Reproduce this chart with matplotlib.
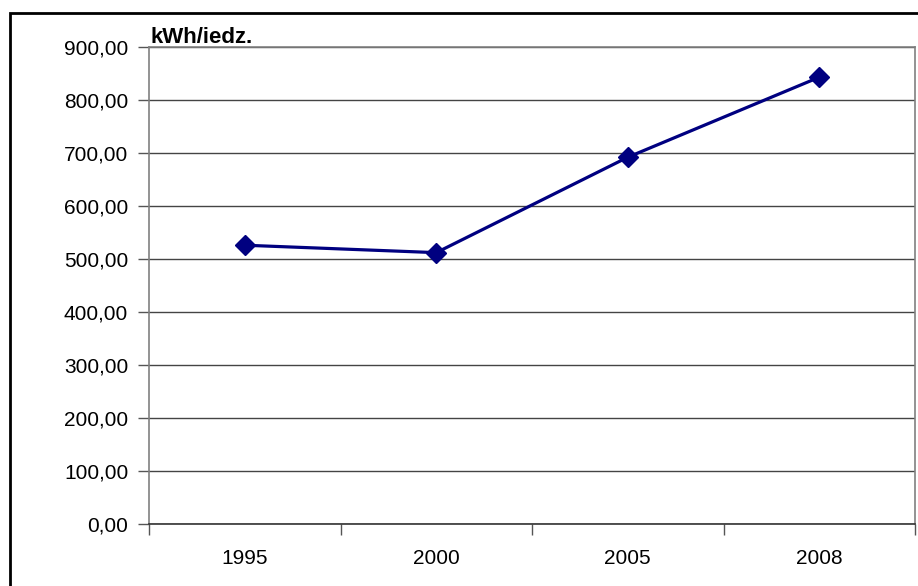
import matplotlib
matplotlib.use("Agg")
import matplotlib.pyplot as plt
from matplotlib.patches import Rectangle
from matplotlib.ticker import FuncFormatter, FixedLocator

years = ["1995", "2000", "2005", "2008"]
consumption = [526, 512, 692, 843]
y_ticks = [0, 100, 200, 300, 400, 500, 600, 700, 800, 900]
unit_label = "kWh/iedz."

plt.rcParams["font.family"] = ["Liberation Sans", "DejaVu Sans"]

W, H = 918, 586
fig = plt.figure(figsize=(W / 100, H / 100), dpi=100)
ax = fig.add_axes([149 / W, 1 - 524 / H, (915 - 149) / W, (524 - 47) / H])

x = list(range(len(years)))
ax.plot(x, consumption, color="#000080", linewidth=2.3, marker="D",
        markersize=10, markerfacecolor="#000080", markeredgecolor="#000080",
        zorder=3)

ax.set_xlim(-0.5, len(years) - 0.5)
ax.set_ylim(0, 900)
ax.set_yticks(y_ticks)
ax.yaxis.set_major_formatter(FuncFormatter(lambda v, p: f"{v:.2f}".replace(".", ",")))
ax.grid(axis="y", color="#444444", linewidth=1.0)
ax.set_axisbelow(True)

ax.set_xticks(x)
ax.set_xticklabels(years)
ax.xaxis.set_minor_locator(FixedLocator([i - 0.5 for i in range(len(years) + 1)]))
ax.tick_params(axis="x", which="major", length=0, pad=18, labelsize=15)
ax.tick_params(axis="x", which="minor", length=8, width=1, color="#555555")
ax.tick_params(axis="y", length=8, width=1, color="#555555", labelsize=15, pad=7)

for side in ["left", "right", "top"]:
    ax.spines[side].set_color("#808080")
    ax.spines[side].set_linewidth(1.2)
ax.spines["bottom"].set_color("#333333")
ax.spines["bottom"].set_linewidth(1.2)

ax.text(150 / W, 1 - 43 / H, unit_label, transform=fig.transFigure,
        fontsize=16, fontweight="bold", ha="left", va="baseline")

fig.patches.append(Rectangle((10 / W, -0.1), 1.2, (H - 13) / H + 0.1,
                             transform=fig.transFigure, fill=False,
                             edgecolor="black", linewidth=2))

fig.savefig("out.png", dpi=100)
